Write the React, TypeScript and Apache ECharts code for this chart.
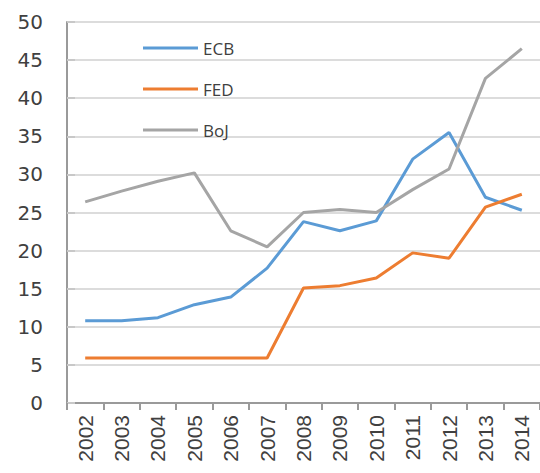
import React, { useEffect, useRef } from "react";
import * as echarts from "echarts";

const years = ["2002","2003","2004","2005","2006","2007","2008","2009","2010","2011","2012","2013","2014"];
const ecb = [10.8, 10.8, 11.2, 12.9, 13.9, 17.7, 23.8, 22.6, 23.9, 32.0, 35.5, 27.0, 25.3];
const fed = [5.9, 5.9, 5.9, 5.9, 5.9, 5.9, 15.1, 15.4, 16.4, 19.7, 19.0, 25.7, 27.4];
const boj = [26.4, 27.8, 29.1, 30.2, 22.6, 20.5, 25.0, 25.4, 25.0, 28.0, 30.7, 42.6, 46.5];
const seriesNames = ["ECB", "FED", "BoJ"];
const colors = ["#5B9BD5", "#ED7D31", "#A5A5A5"];

export default function App() {
  const ref = useRef<HTMLDivElement>(null);
  useEffect(() => {
    if (!ref.current) return;
    const chart = echarts.init(ref.current, null, { renderer: "svg" });
    const data = [ecb, fed, boj];
    chart.setOption({
      animation: false,
      backgroundColor: "#ffffff",
      grid: { left: 67, right: 0, top: 22, bottom: 70, containLabel: false },
      legend: {
        orient: "vertical",
        left: 138,
        top: 33,
        icon: "rect",
        itemWidth: 55,
        itemHeight: 3,
        itemGap: 21,
        data: seriesNames,
        textStyle: { fontFamily: "Open Sans", fontSize: 17, color: "#404040", lineHeight: 20 },
      },
      xAxis: {
        type: "category",
        data: years,
        boundaryGap: true,
        axisLine: { lineStyle: { color: "#9a9a9a", width: 2 } },
        axisTick: { show: true, alignWithLabel: false, length: 7, lineStyle: { color: "#9a9a9a", width: 2 } },
        axisLabel: {
          rotate: 90,
          margin: 12,
          fontFamily: "Liberation Sans",
          fontSize: 21,
          color: "#404040",
          interval: 0,
        },
      },
      yAxis: {
        type: "value",
        min: 0,
        max: 50,
        interval: 5,
        axisLine: { show: true, lineStyle: { color: "#9a9a9a", width: 2 } },
        axisTick: { show: true, inside: true, length: 8, lineStyle: { color: "#c8c8c8", width: 2 } },
        splitLine: { lineStyle: { color: "#dcdcdc", width: 2 } },
        axisLabel: {
          margin: 24,
          fontFamily: "DejaVu Sans",
          fontSize: 20,
          color: "#404040",
        },
      },
      series: seriesNames.map((name, i) => ({
        name,
        type: "line",
        data: data[i],
        symbol: "none",
        lineStyle: { color: colors[i], width: 3 },
        itemStyle: { color: colors[i] },
      })),
    });
    return () => chart.dispose();
  }, []);
  return <div ref={ref} style={{ width: 540, height: 473, position: "absolute", left: 0, top: 0 }} />;
}
